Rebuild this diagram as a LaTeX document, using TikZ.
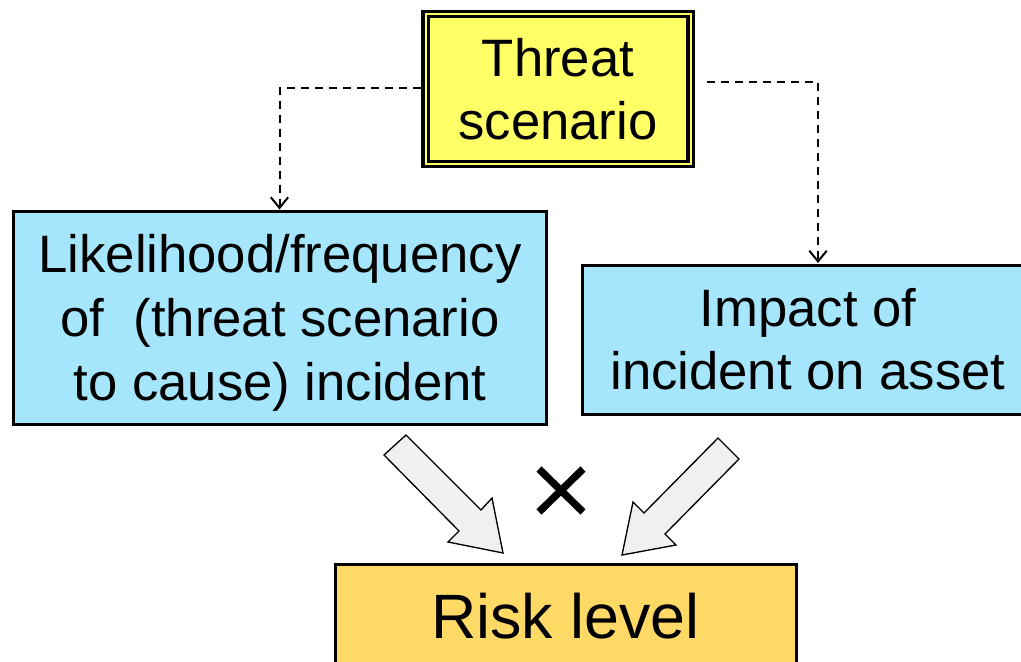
\documentclass[tikz,border=0pt]{standalone}
\usepackage{fontspec}
\setmainfont{Liberation Sans}
\usetikzlibrary{arrows.meta,calc}
\definecolor{tyellow}{HTML}{FFFF66}
\definecolor{lblue}{HTML}{A6E6FC}
\definecolor{rorange}{HTML}{FFD966}
\definecolor{agray}{HTML}{F0F0F0}
\tikzset{
  bluebox/.style={draw=black, line width=2.25pt, fill=lblue, align=center, inner sep=0pt,
    font=\fontsize{39.5}{47}\selectfont},
  boxtext/.style={align=center, inner sep=0pt, font=\fontsize{39.5}{48}\selectfont},
  threatbox/.style={draw=black, line width=2.4pt, double=tyellow, double distance=1.5pt, fill=tyellow,
    align=center, inner sep=0pt, font=\fontsize{39.5}{47}\selectfont},
  riskbox/.style={draw=black, line width=2.25pt, fill=rorange, inner sep=0pt,
    font=\fontsize{47}{56}\selectfont},
  dashconn/.style={draw=black, line width=1.5pt, dash pattern=on 6pt off 4.5pt,
    -{Straight Barb[length=8pt,width=13pt,line width=1.5pt]}},
  blockarrow/.style={draw=black, line width=1pt, fill=agray, line join=miter},
  timesmark/.style={draw=black, line width=5.5pt}
}
\begin{document}
\begin{tikzpicture}[x=0.75pt,y=-0.75pt]
\useasboundingbox (0,0) rectangle (1021,661);
\node[threatbox, minimum width=265*0.75pt, minimum height=150*0.75pt] (threat) at (558,89) {Threat\\scenario};
\node[bluebox, minimum width=533*0.75pt, minimum height=213*0.75pt] (like) at (279.5,317.5) {};
\node[boxtext] (liketext) at (280,323) {Likelihood/frequency\\of \ (threat scenario\\to cause) incident};
\node[bluebox, minimum width=452*0.75pt, minimum height=149*0.75pt] (impact) at (808,339.5)
  {Impact of\\incident on asset};
\node[riskbox, minimum width=461*0.75pt, minimum height=104*0.75pt] (risk) at (565.5,616) {Risk level};

\coordinate (lstart) at (421,88);
\coordinate (rstart) at (707,82);
\coordinate (rend) at (818,263);
\draw[dashconn] (lstart) -| (like.north);
\draw[dashconn] (rstart) -| (rend);

\draw[blockarrow] (384,455) -- (406,435) -- (481,510) -- (492,498) -- (503,553) -- (448,542) -- (459,531) -- cycle;
\draw[blockarrow] (718,438) -- (644,513) -- (633,502) -- (622,555) -- (676,545) -- (665,534) -- (739,459) -- cycle;

\draw[timesmark] (539,469) -- (583,512);
\draw[timesmark] (583,469) -- (539,512);
\end{tikzpicture}
\end{document}
